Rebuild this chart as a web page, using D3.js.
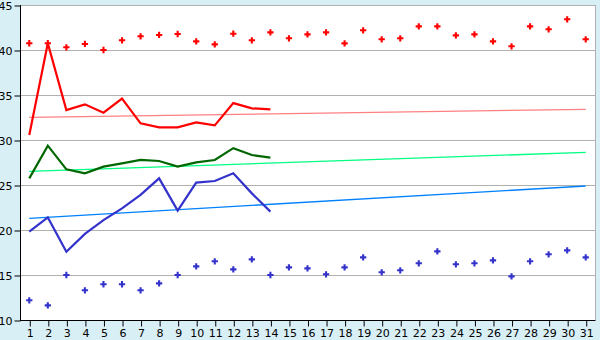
<!DOCTYPE html>
<html><head><meta charset="utf-8">
<script src="https://cdn.jsdelivr.net/npm/d3@7"></script>
<style>html,body{margin:0;padding:0;background:#d9eff6;}svg{display:block;}</style>
</head><body>
<script>
const days = d3.range(1, 32);
const yTicks = [10, 15, 20, 25, 30, 35, 40, 45];
const redPoints = [40.75,40.75,40.3,40.67,40.0,41.08,41.52,41.67,41.78,40.96,40.63,41.81,41.08,41.96,41.3,41.74,41.96,40.74,42.19,41.19,41.3,42.63,42.63,41.63,41.74,40.96,40.41,42.63,42.3,43.41,41.19];
const bluePoints = [12.19,11.63,15.0,13.3,13.97,13.97,13.3,14.07,15.0,15.96,16.52,15.63,16.74,15.0,15.85,15.74,15.08,15.85,16.96,15.3,15.52,16.3,17.63,16.19,16.3,16.63,14.85,16.52,17.3,17.74,16.96];
const redLine = [30.56,40.74,33.33,33.96,33.04,34.6,31.85,31.4,31.4,31.96,31.63,34.1,33.52,33.4];
const greenLine = [25.74,29.37,26.74,26.3,27.04,27.4,27.78,27.67,27.04,27.52,27.78,29.1,28.33,28.04];
const blueLine = [19.81,21.4,17.59,19.56,21.1,22.4,23.9,25.74,22.15,25.26,25.44,26.3,24.07,22.04];
const redTrend = [32.52, 33.41];
const greenTrend = [26.52, 28.63];
const blueTrend = [21.3, 24.89];

const W = 600, H = 340;
const svg = d3.select("body").append("svg").attr("width", W).attr("height", H);
const x = d3.scaleLinear().domain([0.5, 31.5]).range([20, 595]);
const y = d3.scaleLinear().domain([10, 45]).range([320, 5]);

svg.append("rect").attr("x", 20).attr("y", 5).attr("width", 575).attr("height", 315).attr("fill", "#fff");

// gridlines
svg.append("g").selectAll("line").data(yTicks.filter(t => t > 10)).join("line")
  .attr("x1", 20).attr("x2", 595)
  .attr("y1", d => Math.round(y(d)) + 0.5).attr("y2", d => Math.round(y(d)) + 0.5)
  .attr("stroke", "#b0b0b0").attr("stroke-width", 1);
// right border
svg.append("line").attr("x1", 595.5).attr("x2", 595.5).attr("y1", 5).attr("y2", 320)
  .attr("stroke", "#b0b0b0");

const font = "DejaVu Sans, Verdana, sans-serif";

// y axis
const yAxis = d3.axisLeft(y).tickValues(yTicks).tickSize(6).tickPadding(2);
const gy = svg.append("g").attr("transform", "translate(20.5,0.5)").call(yAxis);
gy.select(".domain").attr("stroke", "#000").attr("d", "M0,4.5V319.5");
gy.selectAll(".tick line").attr("stroke", "#000");
gy.selectAll("text").attr("font-family", font).attr("font-size", 11).attr("fill", "#000");

// x axis
const xAxis = d3.axisBottom(x).tickValues(days).tickSize(6).tickPadding(3).tickFormat(d3.format("d"));
const gx = svg.append("g").attr("transform", "translate(0.5,320.5)").call(xAxis);
gx.select(".domain").attr("stroke", "#000").attr("d", "M19.5,0H595");
gx.selectAll(".tick line").attr("stroke", "#000");
gx.selectAll("text").attr("font-family", font).attr("font-size", 11).attr("fill", "#000");

// trend lines
function trend(vals, color) {
  svg.append("line")
    .attr("x1", x(1)).attr("x2", x(31))
    .attr("y1", y(vals[0])).attr("y2", y(vals[1]))
    .attr("stroke", color).attr("stroke-width", 1.3);
}
trend(redTrend, "#ff8080");
trend(greenTrend, "#00ff80");
trend(blueTrend, "#0080ff");

// lines
const line = d3.line().x((d, i) => x(i + 1)).y(d => y(d));
function series(vals, color) {
  svg.append("path").datum(vals).attr("d", line)
    .attr("fill", "none").attr("stroke", color).attr("stroke-width", 2.2)
    .attr("stroke-linejoin", "miter");
}
series(redLine, "#ff0000");
series(greenLine, "#006600");
series(blueLine, "#3333cc");

// points
const sym = d3.symbol().type(d3.symbolCross).size(22);
function points(vals, color) {
  svg.append("g").selectAll("path").data(vals).join("path")
    .attr("d", sym)
    .attr("transform", (d, i) => `translate(${x(i + 1)},${y(d)})`)
    .attr("fill", color);
}
points(redPoints, "#ff0000");
points(bluePoints, "#3333cc");
</script>
</body></html>
